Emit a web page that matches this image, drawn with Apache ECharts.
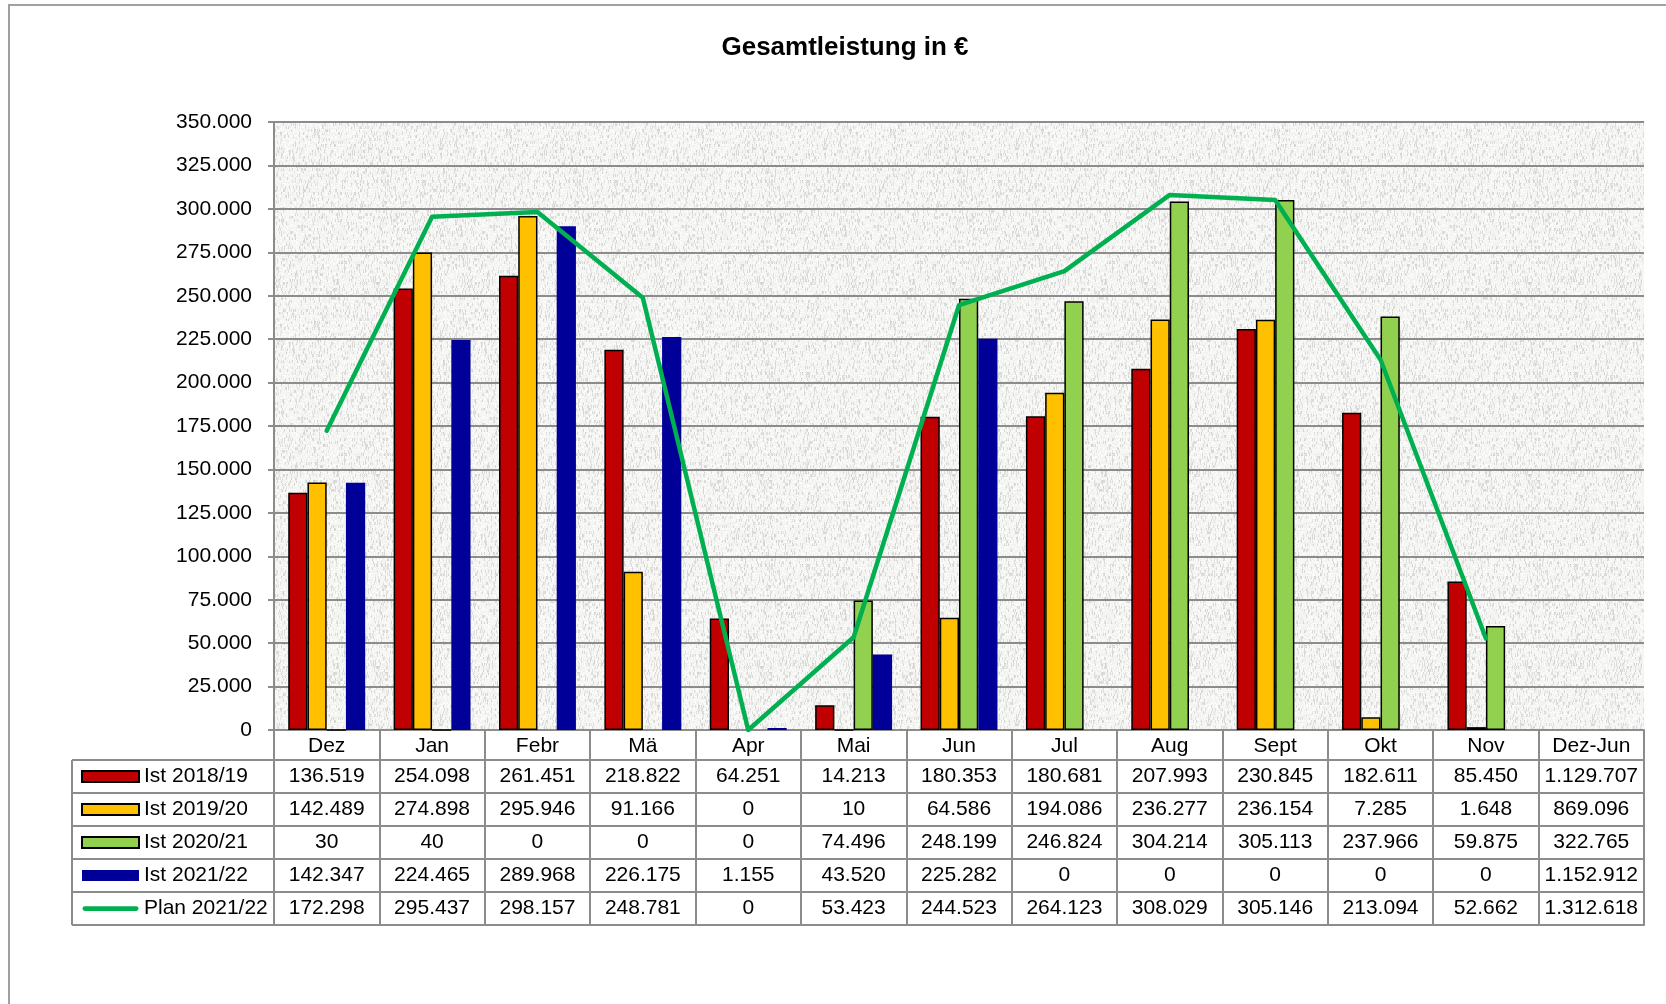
<!DOCTYPE html>
<html><head><meta charset="utf-8">
<script src="https://cdn.jsdelivr.net/npm/echarts@6/dist/echarts.min.js"></script>
<style>html,body{margin:0;padding:0;background:#fff}#c{width:1666px;height:1004px}</style>
</head><body><div id="c"></div>
<script>
// ---- data ----
const categories = ['Dez','Jan','Febr','Mä','Apr','Mai','Jun','Jul','Aug','Sept','Okt','Nov','Dez-Jun'];
const seriesNames = ['Ist 2018/19','Ist 2019/20','Ist 2020/21','Ist 2021/22','Plan 2021/22'];
const ist1819  = [136519,254098,261451,218822,64251,14213,180353,180681,207993,230845,182611,85450];
const ist1920  = [142489,274898,295946,91166,0,10,64586,194086,236277,236154,7285,1648];
const ist2021  = [30,40,0,0,0,74496,248199,246824,304214,305113,237966,59875];
const ist2122  = [142347,224465,289968,226175,1155,43520,225282,0,0,0,0,0];
const plan2122 = [172298,295437,298157,248781,0,53423,244523,264123,308029,305146,213094,52662];
const totals   = [1129707,869096,322765,1152912,1312618]; // Dez-Jun column
const yMin = 0, yMax = 350000, yStep = 25000;

// ---- styling / layout ----
const FONT = 'Liberation Sans, Arial, sans-serif';
const FS = 21;
const GRID = {left:274, right:22, top:122, bottom:274};
const HEADER_H = 30, ROW_H = 33;
const TABLE_LEFT = 72;
const LINE_COL = '#8c8c8c';
const colors = ['#C00000','#FFC000','#92D050','#000099','#00B050'];

function de(n){ return String(n).replace(/\B(?=(\d{3})+(?!\d))/g,'.'); }
function chartVals(arr){ return arr.map(v => v === 0 ? null : v).concat([null]); }

// texture for plot area (deterministic hash noise)
function makeTexture(){
  const S = 192;
  const c = document.createElement('canvas'); c.width = S; c.height = S;
  const ctx = c.getContext('2d'); const img = ctx.createImageData(S,S);
  function h(x,y,s){ let n = Math.imul(x,374761393) ^ Math.imul(y,668265263) ^ Math.imul(s,2246822519);
    n = Math.imul(n ^ (n>>>13), 1274126177); n ^= n>>>16; return (n>>>0)/4294967295; }
  for(let y=0;y<S;y++) for(let x=0;x<S;x++){
    const a = h(x, Math.floor(y/3), 1), b = h(x, y, 2);
    let g = 237 + Math.floor(18*b);
    if (a > 0.81) g = 210 + Math.floor(22*b);
    const i = (y*S+x)*4; img.data[i]=g; img.data[i+1]=g; img.data[i+2]=g-2; img.data[i+3]=255;
  }
  ctx.putImageData(img,0,0); return c;
}

const chart = echarts.init(document.getElementById('c'), null, {renderer:'canvas'});
const lineStyle = {color: LINE_COL, width: 2};
const rows = [ist1819, ist1920, ist2021, ist2122, plan2122];

const xAxes = [{
  type:'category', gridIndex:0, position:'bottom', data: categories,
  axisLine:{show:true, onZero:false, lineStyle},
  axisTick:{show:true, length:HEADER_H, lineStyle},
  axisLabel:{interval:0, margin:6, fontSize:FS, color:'#000', fontFamily:FONT},
  splitLine:{show:false}
}];
rows.forEach((r,i) => {
  xAxes.push({
    type:'category', gridIndex:0, position:'bottom', offset: HEADER_H + ROW_H*i,
    data: r.map(de).concat([de(totals[i])]),
    axisLine:{show:true, onZero:false, lineStyle},
    axisTick:{show:true, length:ROW_H, lineStyle},
    axisLabel:{interval:0, margin:6, fontSize:FS, color:'#000', fontFamily:FONT},
    splitLine:{show:false}
  });
});
xAxes.push({
  type:'category', gridIndex:0, position:'bottom', offset: HEADER_H + ROW_H*rows.length,
  data: categories, axisLine:{show:true, onZero:false, lineStyle},
  axisTick:{show:false}, axisLabel:{show:false}, splitLine:{show:false}
});

// legend column frame lines
const tableTop = 1004 - GRID.bottom + HEADER_H;
const tableBottom = tableTop + ROW_H*rows.length;
const frame = [];
for (let i=0;i<=rows.length;i++){
  frame.push({type:'line', shape:{x1:TABLE_LEFT, y1:tableTop+ROW_H*i, x2:GRID.left, y2:tableTop+ROW_H*i}, style:{stroke:LINE_COL, lineWidth:2}});
}
frame.push({type:'line', shape:{x1:TABLE_LEFT, y1:tableTop, x2:TABLE_LEFT, y2:tableBottom}, style:{stroke:LINE_COL, lineWidth:2}});
frame.push({type:'line', shape:{x1:GRID.left, y1:tableTop, x2:GRID.left, y2:tableBottom}, style:{stroke:LINE_COL, lineWidth:2}});
frame.push({type:'rect', shape:{x:9, y:5, width:2000, height:2000}, style:{fill:null, stroke:'#a0a0a0', lineWidth:2}, silent:true});

const barBase = (i, border) => ({
  type:'bar', name: seriesNames[i], data: chartVals(rows[i]),
  barGap:'0%', barCategoryGap:'27%',
  itemStyle: border ? {color: colors[i], borderColor:'#000', borderWidth:1.5} : {color: colors[i]},
  emphasis:{disabled:true}
});

chart.setOption({
  animation:false,
  backgroundColor:'#fff',
  title:{text:'Gesamtleistung in €', left:840, top:30, textAlign:'center',
    textStyle:{fontSize:26, fontWeight:'bold', color:'#000', fontFamily:FONT}},
  grid:{left:GRID.left, right:GRID.right, top:GRID.top, bottom:GRID.bottom, show:true,
    backgroundColor:{image: makeTexture(), repeat:'repeat'}, borderWidth:0},
  legend:{orient:'vertical', left:81, top:tableTop, padding:0, itemWidth:57, itemHeight:11, itemGap:0,
    selectedMode:false,
    textStyle:{fontSize:FS, color:'#000', fontFamily:FONT, lineHeight:ROW_H},
    data:[
      {name:seriesNames[0], icon:'rect'},
      {name:seriesNames[1], icon:'rect'},
      {name:seriesNames[2], icon:'rect'},
      {name:seriesNames[3], icon:'rect'},
      {name:seriesNames[4], icon:'path://M0,0M60,11M3,3L57,3A2.5,2.5,0,0,1,57,8L3,8A2.5,2.5,0,0,1,3,3Z', itemStyle:{color:colors[4], borderWidth:0}}]},
  xAxis: xAxes,
  yAxis:{type:'value', min:yMin, max:yMax, interval:yStep,
    axisLine:{show:true, lineStyle},
    axisTick:{show:true, length:6, lineStyle},
    axisLabel:{fontSize:FS, color:'#000', margin:22, fontFamily:FONT, formatter: v => de(v)},
    splitLine:{show:true, lineStyle}},
  graphic: frame,
  series:[
    barBase(0,true), barBase(1,true), barBase(2,true), barBase(3,false),
    {type:'line', name:seriesNames[4], data: plan2122.concat([null]), symbol:'none',
      lineStyle:{color:colors[4], width:4.5, cap:'round', join:'round'},
      itemStyle:{color:colors[4]}, z:5, emphasis:{disabled:true}}
  ]
});
</script></body></html>
